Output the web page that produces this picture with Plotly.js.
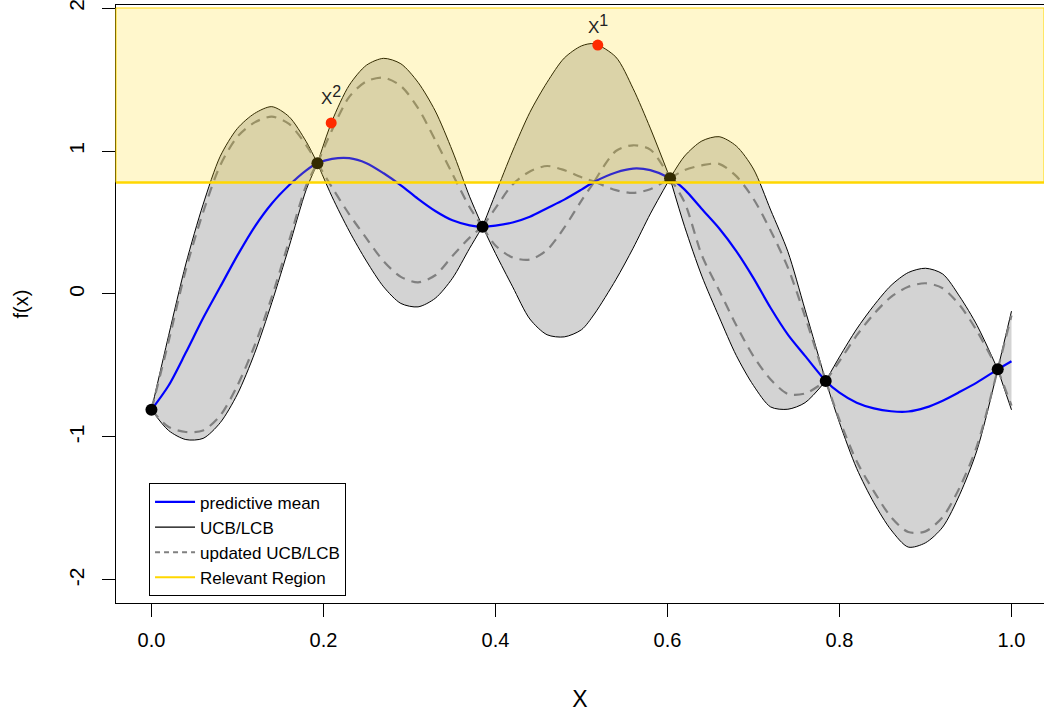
<!DOCTYPE html>
<html>
<head>
<meta charset="utf-8">
<script src="https://cdn.plot.ly/plotly-3.0.1.min.js"></script>
<style>html,body{margin:0;padding:0;background:#fff;}#chart{width:1044px;height:712px;}</style>
</head>
<body>
<div id="chart"></div>
<script>
// ---- data ----
const xGrid = [0, 0.02, 0.04, 0.06, 0.08, 0.10, 0.12, 0.14, 0.16, 0.18, 0.193,
  0.21, 0.23, 0.25, 0.27, 0.29, 0.31, 0.33, 0.35, 0.37, 0.385,
  0.40, 0.42, 0.44, 0.46, 0.48, 0.50, 0.515, 0.54, 0.56, 0.58, 0.603,
  0.62, 0.64, 0.66, 0.68, 0.70, 0.72, 0.74, 0.76, 0.784,
  0.80, 0.82, 0.84, 0.86, 0.88, 0.90, 0.92, 0.94, 0.96, 0.984, 1.0];

const predMean = [-0.81, -0.64, -0.41, -0.17, 0.05, 0.27, 0.47, 0.633, 0.76, 0.865, 0.914,
  0.945, 0.95, 0.915, 0.844, 0.76, 0.665, 0.58, 0.515, 0.48, 0.471,
  0.478, 0.50, 0.54, 0.60, 0.66, 0.73, 0.785, 0.85, 0.877, 0.866, 0.809,
  0.73, 0.594, 0.46, 0.30, 0.111, -0.098, -0.284, -0.433, -0.608,
  -0.69, -0.76, -0.80, -0.82, -0.822, -0.795, -0.746, -0.684, -0.618, -0.527, -0.47];

const ucb = [-0.81, -0.29, 0.21, 0.625, 0.963, 1.158, 1.263, 1.31, 1.24, 1.065, 0.914,
  1.21, 1.46, 1.60, 1.648, 1.61, 1.48, 1.28, 1.00, 0.68, 0.471,
  0.70, 1.00, 1.27, 1.48, 1.65, 1.735, 1.75, 1.657, 1.437, 1.16, 0.809,
  0.965, 1.07, 1.10, 1.035, 0.874, 0.587, 0.296, -0.11, -0.608,
  -0.44, -0.245, -0.08, 0.06, 0.15, 0.18, 0.14, -0.02, -0.22, -0.527, -0.12];

const lcb = [-0.81, -0.955, -1.018, -1.01, -0.90, -0.70, -0.414, -0.06, 0.33, 0.73, 0.914,
  0.68, 0.44, 0.23, 0.05, -0.066, -0.09, -0.03, 0.11, 0.32, 0.471,
  0.284, 0.05, -0.175, -0.285, -0.30, -0.25, -0.14, 0.10, 0.32, 0.56, 0.809,
  0.47, 0.125, -0.16, -0.43, -0.64, -0.79, -0.806, -0.76, -0.608,
  -0.90, -1.22, -1.46, -1.65, -1.77, -1.74, -1.63, -1.40, -1.09, -0.527, -0.81];

const updUcb = [-0.81, -0.33, 0.17, 0.57, 0.90, 1.10, 1.20, 1.24, 1.19, 1.04, 0.914,
  1.147, 1.379, 1.487, 1.513, 1.455, 1.30, 1.077, 0.84, 0.607, 0.471,
  0.60, 0.766, 0.857, 0.895, 0.866, 0.817, 0.786, 1.00, 1.04, 1.01, 0.809,
  0.867, 0.90, 0.91, 0.824, 0.665, 0.443, 0.184, -0.158, -0.608,
  -0.47, -0.29, -0.14, -0.02, 0.05, 0.075, 0.04, -0.08, -0.26, -0.527, -0.15];

const updLcb = [-0.81, -0.93, -0.965, -0.955, -0.85, -0.64, -0.36, -0.02, 0.37, 0.76, 0.914,
  0.745, 0.557, 0.389, 0.229, 0.12, 0.081, 0.131, 0.266, 0.394, 0.471,
  0.339, 0.255, 0.241, 0.308, 0.464, 0.653, 0.786, 0.726, 0.707, 0.733, 0.809,
  0.64, 0.27, 0.026, -0.218, -0.435, -0.598, -0.699, -0.696, -0.608,
  -0.88, -1.17, -1.38, -1.56, -1.665, -1.66, -1.56, -1.35, -1.06, -0.527, -0.78];

const obsX = [0.0, 0.193, 0.385, 0.603, 0.784, 0.984];
const obsY = [-0.81, 0.914, 0.471, 0.809, -0.608, -0.527];

// point where the updated bounds pinch (next evaluation)
const updPinchX = [0.515];

const candX = [0.209, 0.519];
const candY = [1.196, 1.741];
const candBase = ['X', 'X'];
const candSup = ['2', '1'];
const candShift = [13, 6];

const relevantLow = 0.78;
const relevantHigh = 2.0;

const xTickVals = [0, 0.2, 0.4, 0.6, 0.8, 1.0];
const xTickText = ['0.0', '0.2', '0.4', '0.6', '0.8', '1.0'];
const yTickVals = [-2, -1, 0, 1, 2];
const yTickText = ['-2', '-1', '0', '1', '2'];

const xRange = [-0.0412, 1.0378];
const yRange = [-2.161, 2.021];

// ---- chart ----
const FONT = 'Liberation Sans, Arial, sans-serif';

function breakIndices(breakXs) {
  const idx = [0];
  breakXs.forEach(bx => {
    const i = xGrid.indexOf(bx);
    if (i > 0 && i < xGrid.length - 1 && idx.indexOf(i) < 0) idx.push(i);
  });
  idx.push(xGrid.length - 1);
  return idx.sort((a, b) => a - b);
}
function segments(breakXs) {
  const idx = breakIndices(breakXs);
  const segs = [];
  for (let k = 0; k < idx.length - 1; k++) segs.push([idx[k], idx[k + 1]]);
  return segs;
}

const traces = [];
// gray band between LCB and UCB, with black borders; split at the observations so cusps stay sharp
segments(obsX).forEach(([a, b]) => {
  const xs = xGrid.slice(a, b + 1);
  traces.push({x: xs, y: lcb.slice(a, b + 1), type: 'scatter', mode: 'lines',
    line: {color: '#000000', width: 1, shape: 'spline', smoothing: 0.8},
    showlegend: false, hoverinfo: 'skip'});
  traces.push({x: xs, y: ucb.slice(a, b + 1), type: 'scatter', mode: 'lines',
    fill: 'tonexty', fillcolor: '#D3D3D3',
    line: {color: '#000000', width: 1, shape: 'spline', smoothing: 0.8},
    showlegend: false, hoverinfo: 'skip'});
});
// updated bounds (dashed)
segments(obsX.concat(updPinchX)).forEach(([a, b]) => {
  const xs = xGrid.slice(a, b + 1);
  [updUcb, updLcb].forEach(arr => {
    traces.push({x: xs, y: arr.slice(a, b + 1), type: 'scatter', mode: 'lines',
      line: {color: '#808080', width: 2.2, dash: '10px,7px', shape: 'spline', smoothing: 0.8},
      showlegend: false, hoverinfo: 'skip'});
  });
});
// predictive mean
traces.push({x: xGrid, y: predMean, type: 'scatter', mode: 'lines', name: 'predictive mean',
  line: {color: '#0000FF', width: 2.2, shape: 'spline', smoothing: 0.8}, legendrank: 1});
// observations and candidates
traces.push({x: obsX, y: obsY, type: 'scatter', mode: 'markers', showlegend: false,
  marker: {color: '#000000', size: 12}});
traces.push({x: candX, y: candY, type: 'scatter', mode: 'markers', showlegend: false,
  marker: {color: '#FF0000', size: 11}});
// legend entries
traces.push({x: [null], y: [null], type: 'scatter', mode: 'lines', name: 'UCB/LCB',
  line: {color: '#000000', width: 1.2}, legendrank: 2});
traces.push({x: [null], y: [null], type: 'scatter', mode: 'lines', name: 'updated UCB/LCB',
  line: {color: '#808080', width: 2, dash: '5px,4px'}, legendrank: 3});
traces.push({x: [null], y: [null], type: 'scatter', mode: 'lines', name: 'Relevant Region',
  line: {color: '#FFD700', width: 2}, legendrank: 4});

const annotations = candX.map((cx, i) => ({
  x: cx, y: candY[i], xref: 'x', yref: 'y',
  text: candBase[i] + '<sup><span style="font-size:16px">' + candSup[i] + '</span></sup>',
  showarrow: false, xanchor: 'center', yanchor: 'bottom', yshift: candShift[i],
  font: {family: FONT, size: 17, color: '#222222'}
}));

const layout = {
  width: 1044, height: 712,
  margin: {l: 116, r: 0, t: 5, b: 109},
  paper_bgcolor: '#ffffff', plot_bgcolor: '#ffffff',
  font: {family: FONT, color: '#000000'},
  showlegend: true,
  xaxis: {
    range: xRange, showgrid: false, zeroline: false,
    showline: true, mirror: true, linecolor: '#000000', linewidth: 1,
    ticks: 'outside', ticklen: 13, tickwidth: 1, tickcolor: '#000000',
    tickvals: xTickVals, ticktext: xTickText,
    tickfont: {family: FONT, size: 20, color: '#000000'},
    ticklabelstandoff: 6,
    title: {text: 'X', font: {family: FONT, size: 23, color: '#000000'}, standoff: 40}
  },
  yaxis: {
    range: yRange, showgrid: false, zeroline: false,
    showline: true, mirror: false, linecolor: '#000000', linewidth: 1,
    ticks: 'outside', ticklen: 13, tickwidth: 1, tickcolor: '#000000',
    tickvals: yTickVals, ticktext: yTickText, tickangle: -90,
    ticklabeloverflow: 'allow',
    tickfont: {family: FONT, size: 21, color: '#000000'},
    ticklabelstandoff: 10,
    title: {text: 'f(x)', font: {family: FONT, size: 20, color: '#000000'}, standoff: 30}
  },
  legend: {
    x: 0.0356, y: 0.011, xanchor: 'left', yanchor: 'bottom',
    bgcolor: '#ffffff', bordercolor: '#000000', borderwidth: 1,
    font: {family: FONT, size: 17, color: '#000000'},
    itemwidth: 40, traceorder: 'normal'
  },
  shapes: [
    {type: 'rect', xref: 'paper', yref: 'y', x0: 0, x1: 1, y0: relevantLow, y1: relevantHigh,
     fillcolor: 'rgba(255,215,0,0.2)', line: {color: '#FFD700', width: 1}, layer: 'above'},
    {type: 'line', xref: 'paper', yref: 'y', x0: 0, x1: 1, y0: relevantLow, y1: relevantLow,
     line: {color: '#FFD700', width: 2.5}, layer: 'above'}
  ],
  annotations: annotations
};

Plotly.newPlot('chart', traces, layout, {displayModeBar: false, staticPlot: true});
</script>
</body>
</html>
